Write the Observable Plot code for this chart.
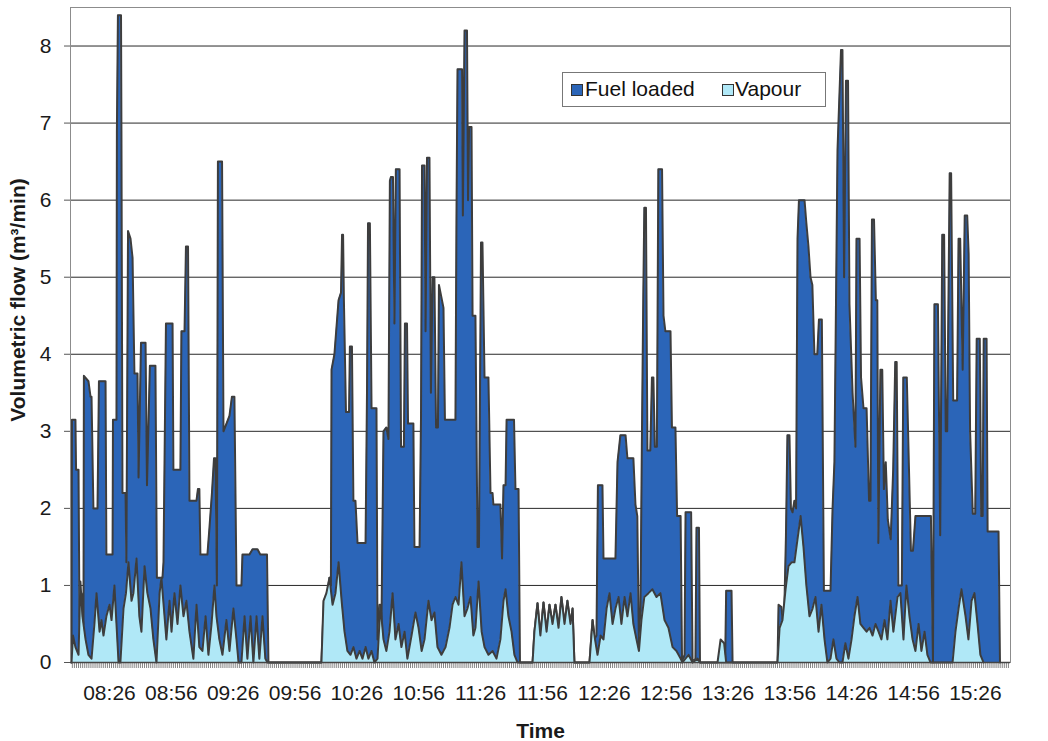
<!DOCTYPE html>
<html><head><meta charset="utf-8">
<script src="https://cdn.jsdelivr.net/npm/d3@7"></script>
<script src="https://cdn.jsdelivr.net/npm/@observablehq/plot@0.6"></script>
<style>
body{margin:0;background:#fff;}
#wrap{position:relative;width:1048px;height:741px;}
#legend{position:absolute;left:562px;top:72px;width:262px;height:33px;border:1px solid #777;background:#fff;font-family:"Liberation Sans",Arial,sans-serif;font-size:21px;color:#111;}
.sw{position:absolute;top:11px;width:10px;height:10px;border:1px solid #333;}
.lt{position:absolute;top:4px;white-space:nowrap;}
</style></head><body><div id="wrap"><div id="legend"></div></div>
<script>
// time = minutes after 08:00
const seriesNames = ["Fuel loaded", "Vapour"];
const seriesColors = ["#2b65b8", "#b0e8f7"];
const tickLabels = ["08:26","08:56","09:26","09:56","10:26","10:56","11:26","11:56","12:26","12:56","13:26","13:56","14:26","14:56","15:26"];
const yTicks = [0,1,2,3,4,5,6,7,8];

const fuelLoaded = [
[7.6,0],[7.8,3.15],[9.5,3.15],[9.8,2.5],[11.0,2.5],[11.5,0.3],[12.4,0.9],[13.4,0.5],[13.6,3.72],[15.8,3.65],[16.8,3.45],[17.3,3.45],[18.2,2.0],[20.2,2.0],[20.9,3.65],[24.1,3.65],[24.5,1.4],[27.5,1.4],[27.7,3.15],[29.4,3.15],[29.6,6.9],[30.1,8.4],[31.6,8.4],[31.8,6.9],[32.3,2.2],[33.8,2.2],[34.2,1.3],[35.0,5.6],[36.2,5.5],[37.2,5.25],[38.1,3.75],[39.6,3.75],[40.1,2.4],[41.3,4.15],[43.5,4.15],[44.2,2.3],[45.6,3.85],[48.3,3.85],[49.0,1.1],[51.7,1.1],[52.2,1.3],[53.4,4.4],[56.6,4.4],[57.0,2.5],[60.4,2.5],[60.9,4.3],[62.4,4.3],[63.1,5.4],[64.1,5.4],[64.8,2.1],[68.2,2.1],[68.9,2.25],[69.6,2.25],[70.1,1.4],[73.5,1.4],[74.5,1.75],[75.7,2.2],[76.7,2.65],[77.4,2.65],[78.1,1.0],[78.6,6.5],[80.6,6.5],[81.3,3.0],[84.2,3.2],[85.4,3.45],[86.6,3.45],[87.6,1.0],[90.0,1.0],[90.5,1.4],[93.9,1.4],[95.4,1.47],[97.8,1.47],[99.2,1.4],[102.4,1.4],[103.1,0],
[128.8,0],[130.0,0.8],[131.7,0.9],[132.7,1.1],[133.4,1.0],[133.7,3.8],[135.1,4.0],[137.1,4.7],[138.3,4.8],[138.8,5.55],[139.3,5.55],[139.7,4.7],[140.7,3.25],[142.2,3.25],[142.6,4.1],[143.6,4.1],[144.3,2.1],[145.3,2.1],[146.3,1.55],[150.2,1.55],[150.9,3.5],[151.4,5.7],[152.3,5.7],[153.1,3.3],[155.5,3.3],[156.0,0.3],[157.0,0.75],[157.9,0.45],[158.9,3.0],[160.3,3.05],[161.3,2.9],[162.0,6.25],[162.5,6.3],[163.5,6.3],[164.2,4.4],[164.9,6.4],[166.7,6.4],[167.4,2.8],[168.8,2.8],[169.3,4.4],[170.3,4.4],[170.8,3.1],[173.4,3.1],[173.9,1.5],[176.4,1.5],[177.1,3.2],[177.6,6.45],[178.8,6.45],[179.3,4.3],[180.0,6.55],[181.2,6.55],[181.9,3.5],[182.7,5.0],[183.6,5.0],[184.4,3.05],[185.3,3.05],[185.8,4.9],[188.0,4.6],[188.7,3.15],[193.8,3.15],[194.3,5.8],[194.8,7.7],[197.0,7.7],[197.4,5.8],[198.2,8.2],[199.4,8.2],[199.9,6.0],[200.4,6.95],[201.6,6.95],[202.1,4.5],[203.5,4.5],[204.5,1.5],[205.2,1.5],[206.2,5.45],[206.9,5.45],[207.9,3.7],[209.8,3.7],[210.8,2.2],[211.8,2.2],[212.2,2.05],[215.6,2.05],[216.4,1.35],[217.1,2.3],[218.1,2.3],[218.6,3.15],[222.2,3.15],[222.9,2.25],[224.4,2.25],[225.1,0],
[231.2,0],[232.1,0.4],[233.6,0.77],[235.0,0.35],[236.5,0.78],[238.0,0.4],[239.4,0.75],[240.9,0.5],[242.3,0.75],[243.8,0.45],[245.2,0.85],[246.7,0.5],[248.1,0.8],[249.6,0.5],[250.6,0.7],[251.5,0],
[258.8,0],[260.3,0.55],[261.2,0.3],[262.2,0.35],[262.9,2.3],[265.1,2.3],[265.6,1.35],[271.4,1.35],[272.4,2.6],[273.8,2.95],[276.3,2.95],[277.2,2.65],[280.1,2.65],[281.1,2.05],[282.0,1.9],[282.8,0.2],[283.5,0.6],[284.2,2.8],[284.9,4.75],[285.4,5.9],[286.2,5.9],[286.9,2.75],[288.3,2.75],[289.1,3.7],[289.8,3.7],[290.5,2.8],[291.5,2.8],[292.2,6.4],[294.0,6.4],[294.7,4.5],[295.6,4.3],[298.1,4.3],[298.8,3.05],[300.5,3.05],[301.3,1.9],[303.0,1.9],[303.7,0],[304.9,0.1],[305.4,1.95],[308.1,1.95],[308.8,0],[310.2,0.05],[310.7,1.75],[311.9,1.75],[312.4,0],
[324.6,0],[325.1,0.93],[327.7,0.93],[328.2,0],
[350.0,0],[350.5,0.75],[351.9,0.72],[352.6,0.5],[353.4,0.8],[354.1,1.65],[354.8,2.95],[355.8,2.95],[356.5,2.0],[357.3,1.95],[358.2,2.1],[359.0,2.0],[359.7,5.5],[360.4,6.0],[363.1,6.0],[364.0,5.7],[365.0,5.4],[366.0,5.0],[366.9,4.9],[367.9,4.0],[369.3,4.0],[370.1,4.45],[371.5,4.45],[372.5,0.93],[375.7,0.93],[376.7,2.0],[377.6,2.6],[379.1,6.65],[380.8,7.95],[381.5,7.95],[382.3,5.0],[383.2,7.55],[384.2,7.55],[384.9,4.65],[386.4,3.5],[387.8,2.8],[388.3,5.5],[389.8,5.5],[390.5,3.7],[391.7,3.3],[393.2,3.3],[394.4,2.1],[395.1,2.1],[395.8,5.75],[396.8,5.75],[397.7,4.7],[398.4,4.7],[398.9,1.55],[399.9,3.8],[400.8,3.8],[401.6,2.25],[402.5,2.6],[403.5,1.85],[404.9,1.6],[406.1,2.5],[407.1,3.9],[407.8,3.9],[408.6,1.0],[410.3,1.0],[411.0,3.7],[412.7,3.7],[414.7,1.45],[415.7,1.45],[416.9,1.9],[424.4,1.9],[425.4,0],[426.1,4.65],[427.8,4.65],[428.9,1.65],[429.9,5.55],[430.8,5.55],[431.6,3.0],[432.3,3.0],[433.5,6.35],[434.2,6.35],[435.2,3.4],[437.1,3.4],[437.8,5.5],[438.6,5.5],[439.8,3.8],[440.8,5.8],[442.0,5.8],[442.7,5.3],[443.4,3.0],[444.7,1.93],[445.9,1.93],[446.6,4.2],[448.1,4.2],[448.8,1.9],[449.5,1.9],[450.0,4.2],[451.4,4.2],[451.9,1.7],[457.2,1.7],[457.9,0]
];

const vapour = [
[7.6,0],[8.3,0.35],[9.5,0.2],[11.0,0.1],[11.9,1.05],[12.9,0.6],[14.4,0.3],[15.8,0.1],[17.3,0.05],[18.7,0.5],[19.7,0.9],[21.2,0.4],[22.1,0.55],[23.1,0.35],[24.5,0.6],[26.0,0.75],[27.0,0.55],[28.4,1.0],[29.4,0.5],[30.4,0],[31.3,0],[32.8,0.7],[34.0,0.9],[35.2,1.3],[36.7,0.8],[37.6,0.9],[39.1,1.35],[40.5,0.6],[41.5,0.4],[43.0,1.25],[44.4,0.9],[45.9,0.7],[47.3,0.3],[48.8,0],[50.3,0.9],[51.2,1.1],[52.7,0.6],[53.6,0.3],[55.1,0.8],[56.1,0.4],[57.5,0.9],[59.0,0.5],[60.4,1.0],[61.9,0.6],[63.3,0.8],[64.8,0.4],[66.7,0.05],[68.2,0.75],[69.6,0.2],[71.1,0.15],[72.6,0.6],[74.0,0.1],[75.5,0.5],[76.9,1.0],[77.9,0.6],[79.3,0.3],[80.8,0.1],[82.7,0.55],[84.2,0.15],[86.1,0.7],[87.6,0.3],[88.6,0],[90.0,0],[91.5,0.6],[92.9,0.05],[94.4,0.6],[95.8,0],[97.3,0.6],[98.7,0.05],[100.2,0.6],[101.6,0.05],[102.6,0],
[128.8,0],[129.8,0.8],[131.2,0.9],[132.7,1.1],[134.2,0.75],[135.6,0.9],[137.1,1.3],[138.6,0.8],[140.0,0.4],[141.4,0.15],[142.9,0.1],[144.3,0.2],[145.8,0.05],[147.3,0.15],[148.7,0.05],[150.2,0.2],[151.6,0.05],[153.1,0.15],[154.5,0],[156.0,0.05],[157.4,0.75],[158.9,0.3],[160.3,0.15],[161.8,0.4],[163.3,0.9],[164.7,0.3],[166.2,0.5],[167.6,0.2],[169.1,0.4],[170.5,0.05],[172.5,0.35],[174.4,0.65],[175.9,0.45],[177.4,0.15],[178.8,0.3],[180.7,0.8],[182.2,0.55],[183.6,0.65],[185.1,0.2],[187.0,0.1],[189.0,0.2],[190.9,0.45],[192.4,0.75],[193.8,0.85],[195.3,0.75],[196.7,1.3],[198.2,0.6],[199.6,0.7],[201.1,0.85],[202.5,0.35],[203.5,0.45],[205.0,1.05],[206.5,0.4],[207.9,0.2],[209.8,0.1],[211.8,0.15],[213.7,0.05],[215.6,0.3],[217.1,0.8],[218.1,0.95],[219.5,0.6],[221.0,0.4],[222.4,0.1],[223.9,0],[225.1,0],
[231.2,0],[232.1,0.4],[233.6,0.77],[235.0,0.35],[236.5,0.78],[238.0,0.4],[239.4,0.75],[240.9,0.5],[242.3,0.75],[243.8,0.45],[245.2,0.85],[246.7,0.5],[248.1,0.8],[249.6,0.5],[250.6,0.7],[251.5,0],
[258.8,0],[260.3,0.55],[261.5,0.3],[262.7,0.1],[264.2,0.35],[265.6,0.3],[267.1,0.7],[268.5,0.9],[270.0,0.5],[271.4,0.7],[272.9,0.85],[274.3,0.5],[275.8,0.85],[277.2,0.6],[278.7,0.9],[280.1,0.5],[281.6,0.3],[282.8,0.15],[284.0,0.55],[285.4,0.85],[287.4,0.9],[289.3,0.95],[291.3,0.85],[293.2,0.9],[295.2,0.55],[297.1,0.45],[299.1,0.2],[301.0,0.15],[303.0,0.05],[303.9,0],[306.8,0.1],[308.8,0],[311.2,0.05],[312.4,0],
[320.9,0],[322.4,0.3],[324.1,0.25],[325.1,0],
[350.0,0],[351.0,0.45],[352.4,0.55],[353.9,0.95],[355.3,1.25],[356.8,1.3],[358.2,1.3],[359.7,1.6],[361.2,1.9],[362.6,1.5],[364.0,1.0],[365.5,0.6],[367.0,0.7],[368.4,0.85],[369.9,0.4],[371.3,0.75],[372.8,0.3],[374.2,0],[375.7,0.05],[377.1,0.3],[378.6,0.05],[380.0,0],[381.5,0],[382.9,0.25],[384.4,0.05],[385.9,0.3],[387.3,0.6],[388.8,0.85],[390.2,0.5],[391.7,0.45],[393.2,0.4],[394.6,0.45],[396.1,0.35],[397.5,0.5],[399.0,0.4],[400.4,0.3],[401.9,0.55],[403.3,0.3],[404.8,0.8],[406.2,0.4],[408.2,0.85],[409.6,0.9],[411.1,0.3],[412.5,1.0],[414.0,0.6],[415.5,0.3],[416.9,0.15],[418.4,0.5],[419.8,0.15],[421.3,0.4],[422.7,0.1],[424.2,0],[434.9,0],[436.3,0.4],[437.8,0.7],[439.2,0.95],[441.2,0.6],[442.6,0.3],[444.1,0.8],[445.5,0.9],[447.0,0.5],[448.4,0.1],[449.9,0]
];

const toMin = s => { const [h, m] = s.split(":").map(Number); return h * 60 + m - 480; };
const fmt = t => { const a = Math.round(t) + 480; return String(Math.floor(a / 60)).padStart(2, "0") + ":" + String(a % 60).padStart(2, "0"); };
const tickMinutes = tickLabels.map(toMin);
const minuteTicks = d3.range(8, 463);
const FONT = "'Liberation Sans', Arial, sans-serif";
const OUT = "#3d3d3d";

const chart = Plot.plot({
  width: 1048, height: 741,
  marginLeft: 70, marginRight: 38, marginTop: 7, marginBottom: 79,
  style: {fontFamily: FONT, background: "transparent", color: "#1a1a1a"},
  x: {domain: [7.1, 463]},
  y: {domain: [0, 8.5]},
  marks: [
    Plot.gridY(yTicks.slice(1), {stroke: "#111", strokeOpacity: 0.9}),
    Plot.areaY(fuelLoaded, {x: d => d[0], y: d => d[1], fill: seriesColors[0]}),
    Plot.lineY(fuelLoaded, {x: d => d[0], y: d => d[1], stroke: OUT, strokeWidth: 2}),
    Plot.areaY(vapour, {x: d => d[0], y: d => d[1], fill: seriesColors[1]}),
    Plot.lineY(vapour, {x: d => d[0], y: d => d[1], stroke: OUT, strokeWidth: 2}),
    Plot.frame({stroke: "#8c8c8c"}),
    Plot.axisX(minuteTicks, {tickSize: 6, tickFormat: () => "", label: null, stroke: "#666", strokeWidth: 0.8}),
    Plot.axisX(tickMinutes, {tickSize: 0, tickPadding: 23, tickFormat: fmt, fontSize: 21, label: null}),
    Plot.axisY(yTicks, {tickSize: 6, tickPadding: 13, fontSize: 21, tickFormat: d => String(d), label: null, stroke: "#555"}),
    Plot.ruleY([0], {stroke: "#444", strokeWidth: 1.5}),
    Plot.text(["Time"], {frameAnchor: "bottom", dy: 75, fontWeight: "bold", fontSize: 21}),
    Plot.text(["Volumetric flow (m\u00b3/min)"], {frameAnchor: "left", textAnchor: "middle", dx: -52, dy: -35, rotate: -90, fontWeight: "bold", fontSize: 21})
  ]
});
document.getElementById("wrap").prepend(chart);

const legend = document.getElementById("legend");
const swLeft = [8, 159], txLeft = [22, 172];
seriesNames.forEach((n, i) => {
  const sw = document.createElement("span"); sw.className = "sw"; sw.style.left = swLeft[i] + "px"; sw.style.background = seriesColors[i]; legend.appendChild(sw);
  const tx = document.createElement("span"); tx.className = "lt"; tx.style.left = txLeft[i] + "px"; tx.textContent = n; legend.appendChild(tx);
});
</script></body></html>
